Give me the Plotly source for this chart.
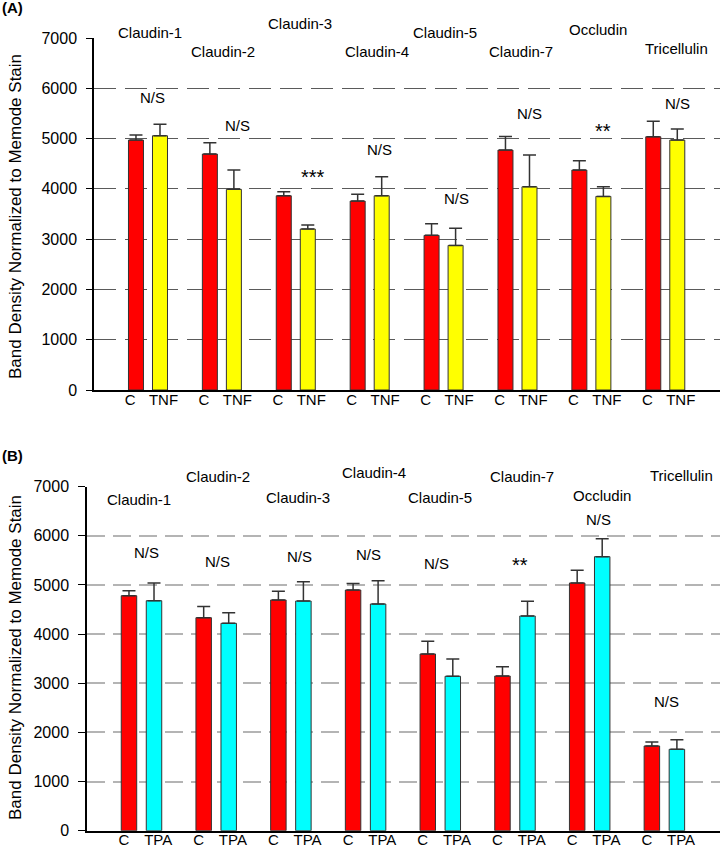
import plotly.graph_objects as go

# ---------------- data ----------------
proteins = ["Claudin-1", "Claudin-2", "Claudin-3", "Claudin-4",
            "Claudin-5", "Claudin-7", "Occludin", "Tricellulin"]

# Panel A: control vs TNF
a_control = [4970, 4692, 3863, 3757, 3075, 4771, 4374, 5036]
a_control_err = [100, 225, 80, 135, 230, 270, 185, 310]
a_tnf = [5056, 3990, 3201, 3863, 2876, 4042, 3850, 4970]
a_tnf_err = [230, 385, 80, 380, 340, 630, 190, 220]
a_sig = ["N/S", "N/S", "***", "N/S", "N/S", "N/S", "**", "N/S"]

# Panel B: control vs TPA
b_control = [4782, 4335, 4695, 4898, 3596, 3148, 5041, 1724]
b_control_err = [100, 225, 175, 130, 260, 190, 260, 80]
b_tpa = [4680, 4220, 4674, 4613, 3142, 4369, 5576, 1656]
b_tpa_err = [360, 215, 390, 475, 350, 300, 365, 195]
b_sig = ["N/S", "N/S", "N/S", "N/S", "N/S", "**", "N/S", "N/S"]

y_ticks = [0, 1000, 2000, 3000, 4000, 5000, 6000, 7000]
y_title = "Band Density Normalized to Memode Stain"

# ---------------- layout helpers (text label placement, px from top) ----------------
a_name_x = [0.19, 1.18, 2.22, 3.26, 4.18, 5.21, 6.25, 7.31]
a_name_py = [32, 52, 24, 52, 32, 52, 29, 49]
a_sig_x = [0.23, 1.37, 2.40, 3.30, 4.34, 5.32, 6.32, 7.33]
a_sig_py = [97, 126, 177, 149, 198, 113, 131, 104]

b_name_x = [0.13, 1.19, 2.26, 3.28, 4.16, 5.26, 6.33, 7.40]
b_name_py = [500, 476, 498, 473, 498, 476, 495, 475]
b_sig_x = [0.23, 1.18, 2.28, 3.21, 4.12, 5.23, 6.29, 7.20]
b_sig_py = [552, 561, 556, 554, 563, 565, 519, 701]

FONT = "Liberation Sans, Arial, sans-serif"
W, H = 720, 849

fig = go.Figure()

def add_panel(ctrl, ctrl_err, trt, trt_err, trt_color, trt_name, offset, width,
              xaxis, yaxis):
    n = len(ctrl)
    xc = [i for i in range(n)]
    xt = [i + offset for i in range(n)]
    err_style = dict(type="data", symmetric=False, thickness=1.5, width=6.5,
                     color="#333333")
    fig.add_trace(go.Bar(
        x=xc, y=ctrl, width=width, xaxis=xaxis, yaxis=yaxis,
        marker=dict(color="#FF0000", line=dict(color="#333333", width=1)),
        error_y=dict(array=ctrl_err, arrayminus=[0] * n, **err_style),
        showlegend=False, name="C"))
    fig.add_trace(go.Bar(
        x=xt, y=trt, width=width, xaxis=xaxis, yaxis=yaxis,
        marker=dict(color=trt_color, line=dict(color="#333333", width=1)),
        error_y=dict(array=trt_err, arrayminus=[0] * n, **err_style),
        showlegend=False, name=trt_name))
    return xc, xt

a_off, b_off = 0.325, 0.335
xc_a, xt_a = add_panel(a_control, a_control_err, a_tnf, a_tnf_err, "#FFFF00",
                       "TNF", a_off, 0.203, "x", "y")
xc_b, xt_b = add_panel(b_control, b_control_err, b_tpa, b_tpa_err, "#00FFFF",
                       "TPA", b_off, 0.207, "x2", "y2")

def xaxis_cfg(domain, rng, xc, xt, lab, anchor, c_shift, t_shift):
    vals, texts = [], []
    for c, t in zip(xc, xt):
        vals += [c + c_shift, t + t_shift]
        texts += ["C", lab]
    return dict(domain=domain, range=rng, tickvals=vals, ticktext=texts,
                anchor=anchor, automargin=False,
                showgrid=False, zeroline=False, showline=True,
                linecolor="black", linewidth=1.5, ticks="", ticklen=0,
                ticklabelstandoff=-5,
                tickfont=dict(family=FONT, size=15, color="black"))

def yaxis_cfg(domain, anchor, gridcolor, dash, gw, ticklen):
    return dict(domain=domain, range=[0, 7000], anchor=anchor, automargin=False,
                tickvals=y_ticks, showgrid=True, gridcolor=gridcolor,
                griddash=dash, gridwidth=gw, zeroline=False, showline=True,
                linecolor="black", linewidth=1.5, ticks="outside",
                ticklen=ticklen, tickcolor="black", tickwidth=1.2,
                ticklabelstandoff=6,
                tickfont=dict(family=FONT, size=16, color="black"))

fig.update_layout(
    width=W, height=H,
    margin=dict(l=0, r=0, t=0, b=0, autoexpand=False),
    paper_bgcolor="white", plot_bgcolor="white",
    barmode="overlay",
    xaxis=xaxis_cfg([94 / W, 1.0], [-0.568, 7.903], xc_a, xt_a, "TNF", "y",
                    -0.08, 0.047),
    yaxis=yaxis_cfg([1 - 390 / H, 1 - 38 / H], "x", "#5a5a5a", "22px,9px", 1, 6),
    xaxis2=xaxis_cfg([87 / W, 1.0], [-0.562, 7.912], xc_b, xt_b, "TPA", "y2",
                     -0.067, 0.056),
    yaxis2=yaxis_cfg([1 - 830.7 / H, 1 - 486.7 / H], "x2", "#b4b4b4", "18px,8px", 1.5, 7),
    font=dict(family=FONT, color="black"),
)

ann = []
for names_x, names_py, sig, sx, spy, xr in [
        (a_name_x, a_name_py, a_sig, a_sig_x, a_sig_py, "x"),
        (b_name_x, b_name_py, b_sig, b_sig_x, b_sig_py, "x2")]:
    for name, nx, npy in zip(proteins, names_x, names_py):
        ann.append(dict(x=nx, y=1 - npy / H, xref=xr, yref="paper", text=name,
                        showarrow=False, yanchor="middle",
                        font=dict(family=FONT, size=15, color="black")))
    for s, x, py in zip(sig, sx, spy):
        ann.append(dict(x=x, y=1 - py / H, xref=xr, yref="paper", text=s,
                        showarrow=False, yanchor="middle",
                        font=dict(family=FONT, size=20 if "*" in s else 15,
                                  color="black")))

# panel letters
ann.append(dict(x=0, y=1 - 8 / H, xref="paper", yref="paper", text="<b>(A)</b>",
                showarrow=False, xanchor="left", yanchor="middle",
                font=dict(family=FONT, size=15, color="black")))
ann.append(dict(x=0, y=1 - 455 / H, xref="paper", yref="paper", text="<b>(B)</b>",
                showarrow=False, xanchor="left", yanchor="middle",
                font=dict(family=FONT, size=15, color="black")))
# y axis titles
ann.append(dict(x=15 / W, y=1 - 217 / H, xref="paper", yref="paper", text=y_title,
                textangle=-90, showarrow=False, xanchor="center", yanchor="middle",
                font=dict(family=FONT, size=17, color="black")))
ann.append(dict(x=15 / W, y=1 - 658 / H, xref="paper", yref="paper", text=y_title,
                textangle=-90, showarrow=False, xanchor="center", yanchor="middle",
                font=dict(family=FONT, size=17, color="black")))

fig.update_layout(annotations=ann)
fig.write_html("out.html",
               config={"displayModeBar": False},
               post_script="document.body.style.margin='0px';"
                           "document.body.style.overflow='hidden';")
